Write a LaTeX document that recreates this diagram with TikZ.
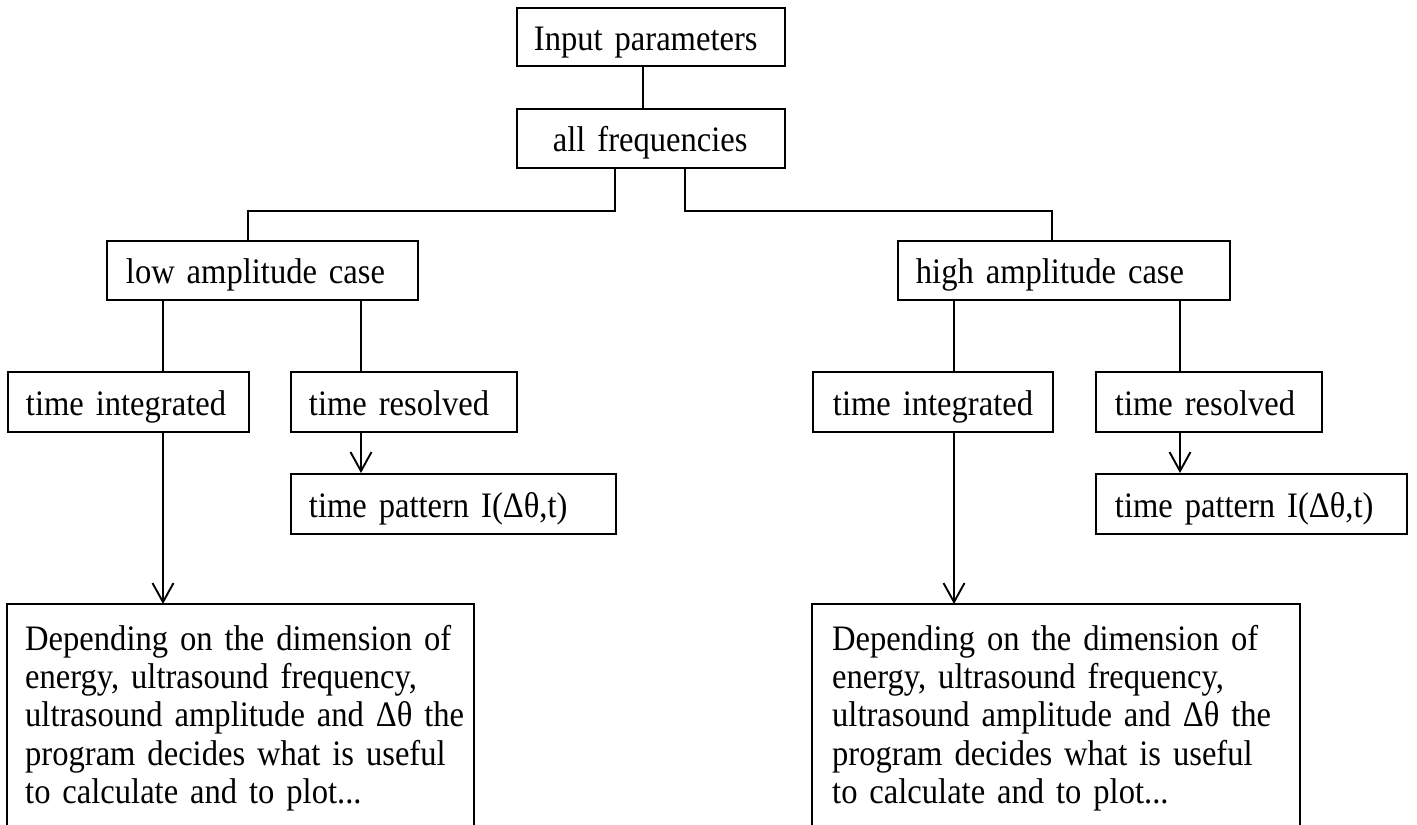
\documentclass[tikz,border=0pt]{standalone}
\usepackage{fontspec}
\setmainfont[FakeStretch=0.91,WordSpace=0.8]{Liberation Serif}
\usetikzlibrary{arrows.meta}
\begin{document}
\begin{tikzpicture}[x=1pt,y=-1pt,
  every node/.style={font=\fontsize{35.8}{38.3}\selectfont},
  tbox/.style 2 args={draw, line width=1.9pt, anchor=north west, inner sep=0pt,
    text width=#1, execute at begin node={\leftskip=#2\relax},
    text height=30pt, text depth=3pt},
  textblock/.style 2 args={anchor=north west, inner sep=0pt,
    text width=#1, execute at begin node={\leftskip=#2\relax},
    text height=46pt},
  link/.style={line width=1.9pt},
  arr/.style={line width=1.9pt, -{Straight Barb[length=19pt,width=21pt]}}]
\useasboundingbox (0,0) rectangle (1417,825);

% boxes
\node[tbox={268pt}{17pt}, minimum height=58pt] (inp) at (516,7) {Input parameters};
\node[tbox={268pt}{36pt}, minimum height=59pt] (freq) at (516,108) {all frequencies};
\node[tbox={311pt}{19pt}, minimum height=59pt] (low) at (106,240) {low amplitude case};
\node[tbox={332pt}{18pt}, minimum height=59pt] (high) at (897,240) {high amplitude case};
\node[tbox={241pt}{18pt}, minimum height=60pt] (ti1) at (7,371) {time integrated};
\node[tbox={226pt}{18pt}, minimum height=60pt] (tr1) at (290,371) {time resolved};
\node[tbox={325pt}{18pt}, minimum height=60pt] (tp1) at (290,473) {time pattern I(Δθ,t)};
\node[tbox={240pt}{20pt}, minimum height=60pt] (ti2) at (812,371) {time integrated};
\node[tbox={226pt}{19pt}, minimum height=60pt] (tr2) at (1095,371) {time resolved};
\node[tbox={311pt}{19pt}, minimum height=60pt] (tp2) at (1095,473) {time pattern I(Δθ,t)};
\node[textblock={467pt}{18pt}] (bb1) at (7,604) {Depending on the dimension of\\energy, ultrasound frequency,\\ultrasound amplitude and Δθ the\\program decides what is useful\\to calculate and to plot...};
\node[textblock={488pt}{20pt}] (bb2) at (812,604) {Depending on the dimension of\\energy, ultrasound frequency,\\ultrasound amplitude and Δθ the\\program decides what is useful\\to calculate and to plot...};

% reference coordinates for connector positions
\coordinate (xe) at (643,0);
\coordinate (xf) at (615,0);
\coordinate (xg) at (685,0);
\coordinate (xl) at (248,0);
\coordinate (xh) at (1052,0);
\coordinate (xa) at (163,0);
\coordinate (xb) at (361,0);
\coordinate (xc) at (954,0);
\coordinate (xd) at (1180,0);
\coordinate (ybus) at (0,211);
\coordinate (ybot) at (0,830);

% open frames of the bottom boxes
\draw[link] (ybot -| bb1.west) -- (bb1.north west) -- (bb1.north east) -- (ybot -| bb1.east);
\draw[link] (ybot -| bb2.west) -- (bb2.north west) -- (bb2.north east) -- (ybot -| bb2.east);

% connectors
\draw[link] (inp.south -| xe) -- (freq.north -| xe);
\draw[link] (freq.south -| xf) |- (xl |- ybus) -- (low.north -| xl);
\draw[link] (freq.south -| xg) |- (xh |- ybus) -- (high.north -| xh);
\draw[link] (low.south -| xa) -- (ti1.north -| xa);
\draw[link] (low.south -| xb) -- (tr1.north -| xb);
\draw[arr] (tr1.south -| xb) -- (tp1.north -| xb);
\draw[arr] (ti1.south -| xa) -- (bb1.north -| xa);
\draw[link] (high.south -| xc) -- (ti2.north -| xc);
\draw[link] (high.south -| xd) -- (tr2.north -| xd);
\draw[arr] (tr2.south -| xd) -- (tp2.north -| xd);
\draw[arr] (ti2.south -| xc) -- (bb2.north -| xc);
\end{tikzpicture}
\end{document}
